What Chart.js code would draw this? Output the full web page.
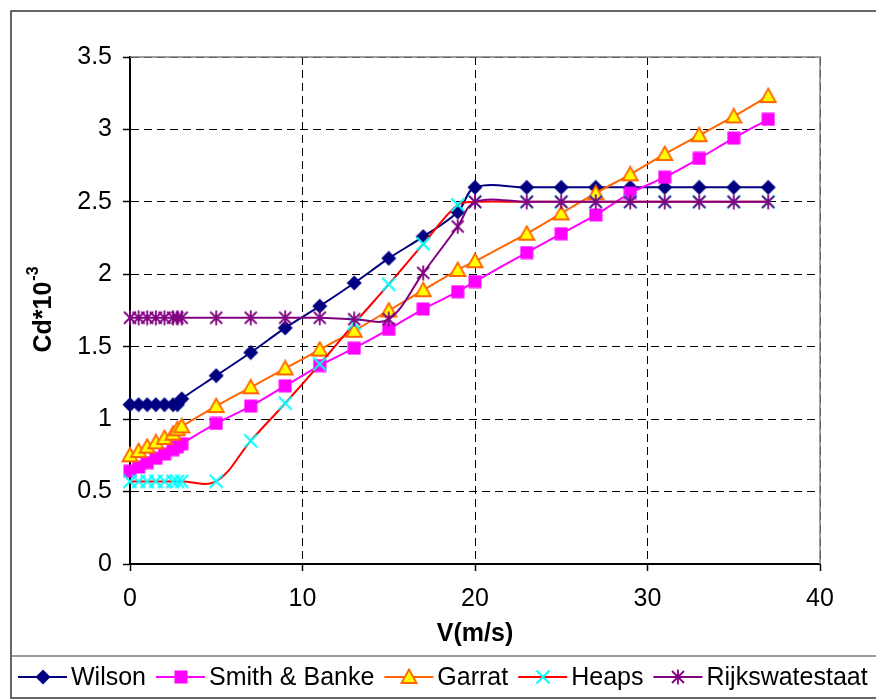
<!DOCTYPE html>
<html lang="en">
  <head>
    <meta charset="UTF-8" />
    <title>Cd against wind speed</title>
    <script src="https://cdn.jsdelivr.net/npm/chart.js"></script>
    <style>
      html, body { margin: 0; padding: 0; background: #fff; }
      canvas { display: block; }
    </style>
  </head>
  <body>
    <canvas id="cdChart" width="876" height="700"></canvas>
    <script>
      // Wind speed V (m/s), shared by every series
      const speeds = [0, 0.5, 1, 1.5, 2, 2.5, 2.75, 3, 5, 7, 9, 11, 13, 15, 17, 19, 20, 23, 25, 27, 29, 31, 33, 35, 37];

      // Drag coefficient Cd*10^-3 for each formula
      const wilson = [1.1, 1.1, 1.1, 1.1, 1.1, 1.1, 1.1, 1.14, 1.30, 1.46, 1.63, 1.78, 1.94, 2.11, 2.26, 2.43, 2.60, 2.6, 2.6, 2.6, 2.6, 2.6, 2.6, 2.6, 2.6];
      const smithBanke = [0.64, 0.67, 0.70, 0.73, 0.76, 0.79, 0.81, 0.83, 0.97, 1.09, 1.23, 1.37, 1.49, 1.62, 1.76, 1.88, 1.95, 2.15, 2.28, 2.41, 2.56, 2.67, 2.80, 2.94, 3.07];
      const garrat = [0.75, 0.78, 0.81, 0.84, 0.87, 0.90, 0.93, 0.95, 1.09, 1.22, 1.35, 1.48, 1.61, 1.75, 1.89, 2.03, 2.09, 2.28, 2.42, 2.56, 2.69, 2.83, 2.96, 3.09, 3.23];
      const heaps = [0.57, 0.57, 0.57, 0.57, 0.57, 0.57, 0.57, 0.57, 0.57, 0.85, 1.11, 1.38, 1.66, 1.93, 2.21, 2.48, 2.5, 2.5, 2.5, 2.5, 2.5, 2.5, 2.5, 2.5, 2.5];
      const rijkswaterstaat = [1.7, 1.7, 1.7, 1.7, 1.7, 1.7, 1.7, 1.7, 1.7, 1.7, 1.7, 1.7, 1.69, 1.69, 2.01, 2.33, 2.5, 2.5, 2.5, 2.5, 2.5, 2.5, 2.5, 2.5, 2.5];

      const seriesNames = ['Wilson', 'Smith & Banke', 'Garrat', 'Heaps', 'Rijkswatestaat'];
      const xTickLabels = ['0', '10', '20', '30', '40'];
      const yTickLabels = ['0', '0.5', '1', '1.5', '2', '2.5', '3', '3.5'];

      const FONT = '"Liberation Sans", Arial, sans-serif';

      // small canvases used as point markers (also reused in the legend)
      function marker(size, paint) {
        const c = document.createElement('canvas');
        c.width = c.height = size;
        paint(c.getContext('2d'), size);
        return c;
      }
      const diamond = marker(16, (g) => {
        g.fillStyle = '#000080';
        g.beginPath();
        g.moveTo(8, 0.5); g.lineTo(15.5, 8); g.lineTo(8, 15.5); g.lineTo(0.5, 8);
        g.closePath(); g.fill();
      });
      const square = marker(14, (g) => {
        g.fillStyle = '#ff00ff';
        g.fillRect(0.5, 0.5, 13, 13);
      });
      const triangle = marker(18, (g) => {
        g.fillStyle = '#ffff00';
        g.strokeStyle = '#ff6600';
        g.lineWidth = 1.8;
        g.beginPath();
        g.moveTo(9, 1.5); g.lineTo(16.5, 15); g.lineTo(1.5, 15);
        g.closePath(); g.fill(); g.stroke();
      });
      const cross = marker(16, (g) => {
        g.strokeStyle = '#00ffff';
        g.lineWidth = 2;
        g.beginPath();
        g.moveTo(1.5, 1.5); g.lineTo(14.5, 14.5);
        g.moveTo(14.5, 1.5); g.lineTo(1.5, 14.5);
        g.stroke();
      });
      const asterisk = marker(16, (g) => {
        g.strokeStyle = '#800080';
        g.lineWidth = 1.8;
        g.beginPath();
        g.moveTo(2, 2); g.lineTo(14, 14);
        g.moveTo(14, 2); g.lineTo(2, 14);
        g.moveTo(8, 0.5); g.lineTo(8, 15.5);
        g.stroke();
      });

      function toPoints(values) {
        return values.map((v, i) => ({ x: speeds[i], y: v }));
      }

      function series(label, values, lineColor, style, order) {
        return {
          label: label,
          data: toPoints(values),
          borderColor: lineColor,
          borderWidth: 2,
          pointStyle: style,
          pointRadius: 8,
          tension: 0.35,
          fill: false,
          clip: false,
          order: order
        };
      }

      const datasets = [
        series(seriesNames[0], wilson, '#000080', diamond, 4),
        series(seriesNames[1], smithBanke, '#ff00ff', square, 3),
        series(seriesNames[2], garrat, '#ff6600', triangle, 2),
        series(seriesNames[3], heaps, '#ff0000', cross, 1),
        series(seriesNames[4], rijkswaterstaat, '#800080', asterisk, 0)
      ];

      // plot frame, axis titles, outer border and the boxed legend
      const decorations = {
        id: 'decorations',
        beforeDraw(chart) {
          const ctx = chart.ctx;
          ctx.save();
          ctx.fillStyle = '#fff';
          ctx.fillRect(0, 0, chart.width, chart.height);
          ctx.restore();
        },
        beforeDatasetsDraw(chart) {
          const { ctx, chartArea: a } = chart;
          ctx.save();
          ctx.strokeStyle = '#808080';
          ctx.lineWidth = 1.5;
          ctx.beginPath();
          ctx.moveTo(a.left, a.top);
          ctx.lineTo(a.right, a.top);
          ctx.lineTo(a.right, a.bottom);
          ctx.stroke();
          ctx.restore();
        },
        afterDraw(chart) {
          const { ctx, chartArea: a } = chart;
          ctx.save();

          // x axis title
          ctx.fillStyle = '#000';
          ctx.font = 'bold 25px ' + FONT;
          ctx.textAlign = 'center';
          ctx.textBaseline = 'middle';
          ctx.fillText('V(m/s)', (a.left + a.right) / 2, 634);

          // y axis title with superscript exponent
          ctx.save();
          ctx.translate(42, 310);
          ctx.rotate(-Math.PI / 2);
          ctx.textAlign = 'left';
          ctx.textBaseline = 'alphabetic';
          const base = 'Cd*10';
          ctx.font = 'bold 25px ' + FONT;
          const wBase = ctx.measureText(base).width;
          ctx.font = 'bold 16px ' + FONT;
          const wExp = ctx.measureText('-3').width;
          const start = -(wBase + wExp) / 2;
          ctx.font = 'bold 25px ' + FONT;
          ctx.fillText(base, start, 9);
          ctx.font = 'bold 16px ' + FONT;
          ctx.fillText('-3', start + wBase + 1, -4);
          ctx.restore();

          // outer border and legend box
          ctx.strokeStyle = '#333';
          ctx.lineWidth = 1.5;
          ctx.strokeRect(11, 11, 900, 687);
          ctx.strokeStyle = '#777';
          ctx.beginPath();
          ctx.moveTo(11, 656);
          ctx.lineTo(876, 656);
          ctx.stroke();

          // legend entries
          ctx.font = '25px ' + FONT;
          ctx.textAlign = 'left';
          ctx.textBaseline = 'middle';
          let x = 18;
          const y = 677;
          chart.data.datasets.forEach((ds) => {
            ctx.strokeStyle = ds.borderColor;
            ctx.lineWidth = 2;
            ctx.beginPath();
            ctx.moveTo(x, y);
            ctx.lineTo(x + 49, y);
            ctx.stroke();
            const m = ds.pointStyle;
            ctx.drawImage(m, Math.round(x + 24.5 - m.width / 2), Math.round(y - m.height / 2));
            ctx.fillStyle = '#000';
            ctx.fillText(ds.label, x + 53, y + 1);
            x += 53 + ctx.measureText(ds.label).width + 10;
          });
          ctx.restore();
        }
      };

      Chart.defaults.font.family = FONT;
      Chart.defaults.color = '#000';

      new Chart(document.getElementById('cdChart'), {
        type: 'line',
        data: { datasets: datasets },
        options: {
          responsive: false,
          animation: false,
          devicePixelRatio: 1,
          layout: { autoPadding: false, padding: { left: 0, top: 57, right: 56, bottom: 0 } },
          plugins: { legend: { display: false }, tooltip: { enabled: false } },
          scales: {
            x: {
              type: 'linear',
              min: 0,
              max: 40,
              afterFit: (scale) => { scale.height = 136; },
              ticks: {
                stepSize: 10,
                padding: 13,
                font: { size: 25 },
                callback: (value, index) => xTickLabels[index]
              },
              grid: { color: '#000', lineWidth: 1, tickLength: 7, tickColor: '#000', tickWidth: 1.5 },
              border: { color: '#000', width: 2, dash: [8, 5] }
            },
            y: {
              min: 0,
              max: 3.5,
              afterFit: (scale) => { scale.width = 130; },
              ticks: {
                stepSize: 0.5,
                padding: 11,
                font: { size: 25 },
                callback: (value, index) => yTickLabels[index]
              },
              grid: { color: '#000', lineWidth: 1, tickLength: 7, tickColor: '#000', tickWidth: 1.5 },
              border: { color: '#000', width: 2, dash: [8, 5] }
            }
          }
        },
        plugins: [decorations]
      });
    </script>
  </body>
</html>
